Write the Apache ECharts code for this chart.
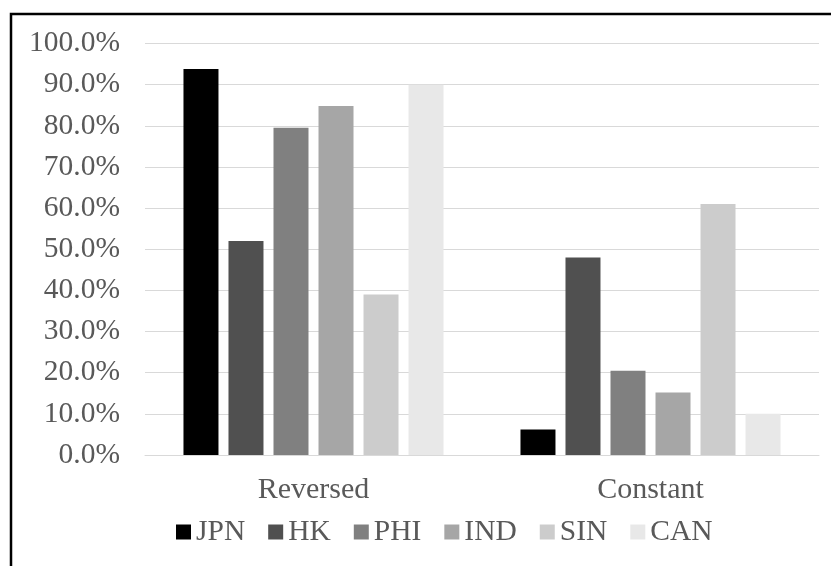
<!DOCTYPE html>
<html>
<head>
<meta charset="utf-8">
<script src="https://cdn.jsdelivr.net/npm/echarts@6/dist/echarts.min.js"></script>
<style>
  html, body { margin: 0; padding: 0; background: #ffffff; }
  #chart { width: 831px; height: 566px; }
</style>
</head>
<body>
<div id="chart"></div>
<script>
// Categories on the x axis
const categories = ['Reversed', 'Constant'];
// Country series (share, in percent)
const seriesNames = ['JPN', 'HK', 'PHI', 'IND', 'SIN', 'CAN'];
const jpn = [93.8, 6.2];
const hk  = [52.0, 48.0];
const phi = [79.5, 20.5];
const ind = [84.8, 15.2];
const sin = [39.0, 61.0];
const can = [90.0, 10.0];
const seriesValues = [jpn, hk, phi, ind, sin, can];
const seriesColors = ['#000000', '#505050', '#808080', '#a6a6a6', '#cccccc', '#e8e8e8'];

const fontFamily = '"Liberation Serif", "Times New Roman", serif';
const textColor = '#595959';

const chart = echarts.init(document.getElementById('chart'), null, { renderer: 'canvas' });

chart.setOption({
  backgroundColor: '#ffffff',
  animation: false,
  textStyle: { fontFamily: fontFamily },
  graphic: [{
    type: 'rect',
    shape: { x: 11, y: 14, width: 840, height: 600 },
    style: { fill: 'none', stroke: '#000000', lineWidth: 2.5 },
    silent: true
  }],
  grid: { left: 145, right: 12, top: 43.5, bottom: 111 },
  legend: {
    data: seriesNames,
    left: 171,
    top: 512,
    icon: 'rect',
    itemWidth: 15,
    itemHeight: 15,
    itemGap: 23,
    textStyle: { fontFamily: fontFamily, fontSize: 29.5, color: textColor }
  },
  xAxis: {
    type: 'category',
    data: categories,
    axisLine: { show: true, lineStyle: { color: '#d9d9d9', width: 1 } },
    axisTick: { show: false },
    axisLabel: { fontFamily: fontFamily, fontSize: 30, color: textColor, margin: 20 }
  },
  yAxis: {
    type: 'value',
    min: 0,
    max: 100,
    interval: 10,
    axisLine: { show: false },
    axisTick: { show: false },
    splitLine: { show: true, lineStyle: { color: '#d9d9d9', width: 1 } },
    axisLabel: {
      fontFamily: fontFamily,
      fontSize: 29.5,
      color: textColor,
      margin: 25,
      formatter: v => v.toFixed(1) + '%'
    }
  },
  series: seriesNames.map((name, i) => ({
    name: name,
    type: 'bar',
    data: seriesValues[i],
    barWidth: 35,
    barGap: '28.6%',
    itemStyle: { color: seriesColors[i] }
  }))
});
</script>
</body>
</html>
